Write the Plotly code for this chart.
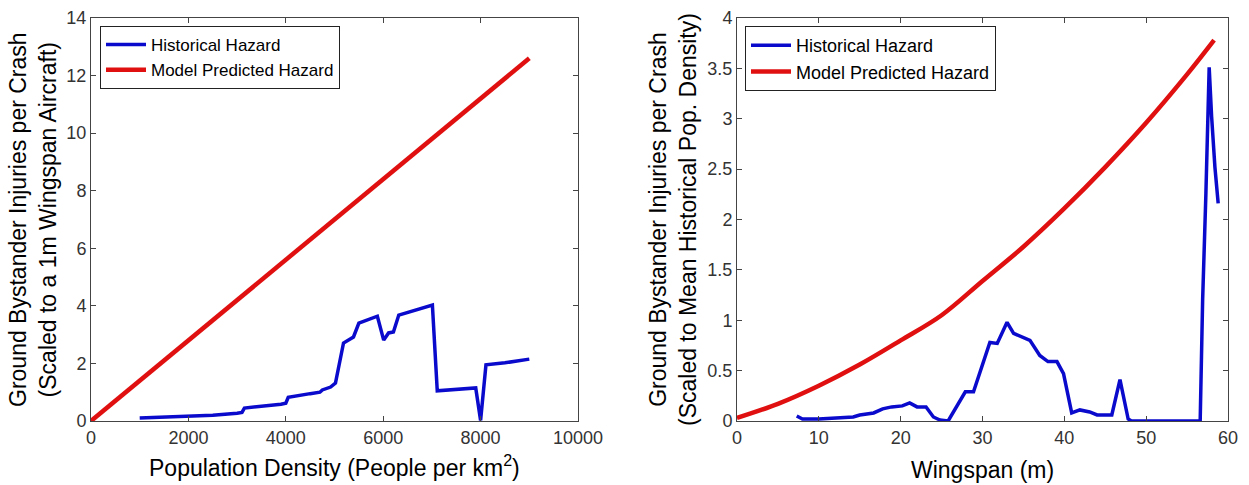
import plotly.graph_objects as go

# ---- Left panel data (Population density) ----
pop_hist_x = [1000, 1500, 2000, 2500, 3000, 3100, 3150, 3500, 3900, 4000, 4050, 4500, 4700,
              4750, 4920, 5020, 5185, 5390, 5500, 5880, 6010, 6110, 6210, 6320, 7010, 7110,
              7500, 7900, 8000, 8110, 8500, 9000]
pop_hist_y = [0.10, 0.13, 0.15, 0.20, 0.27, 0.30, 0.45, 0.50, 0.58, 0.62, 0.82, 0.95, 1.00,
              1.08, 1.18, 1.32, 2.71, 2.92, 3.40, 3.64, 2.81, 3.06, 3.09, 3.68, 4.03, 1.05,
              1.10, 1.15, 0.02, 1.95, 2.02, 2.15]
pop_model_x = [0, 9000]
pop_model_y = [0, 12.6]

# ---- Right panel data (Wingspan) ----
wing_hist_x = [7.3, 8.0, 10, 12, 14.2, 15.0, 16.7, 17.8, 18.9, 20.2, 21.1, 22.0, 23.1, 24.0,
               24.8, 25.8, 27.9, 28.9, 30.9, 31.8, 33.0, 33.8, 35.8, 37.0, 38.0, 39.1, 39.9,
               40.9, 41.9, 43.1, 44.0, 45.8, 46.8, 47.8, 48.2, 56.6, 56.9, 57.3, 57.7, 58.0,
               58.4, 58.8]
wing_hist_y = [0.05, 0.02, 0.02, 0.03, 0.04, 0.06, 0.08, 0.12, 0.14, 0.15, 0.18, 0.14, 0.14,
               0.04, 0.01, 0.0, 0.29, 0.29, 0.78, 0.77, 0.98, 0.87, 0.80, 0.65, 0.59, 0.59,
               0.47, 0.08, 0.11, 0.09, 0.06, 0.06, 0.41, 0.02, 0.0, 0.0, 1.2, 2.26, 3.51, 3.02,
               2.52, 2.16]
wing_model_x = [0, 5, 10, 15, 20, 25, 30, 35, 40, 45, 50, 55, 58.3]
wing_model_y = [0.03, 0.17, 0.35, 0.56, 0.80, 1.05, 1.39, 1.73, 2.11, 2.52, 2.96, 3.44, 3.78]

names = ["Historical Hazard", "Model Predicted Hazard"]
BLUE = "#0a0acc"
RED = "#e01010"
FONT = "Liberation Sans, Arial, sans-serif"

W, H = 1249, 485
def px_x(p): return p / W
def px_y(p): return (H - p) / H

fig = go.Figure()
fig.add_trace(go.Scatter(x=pop_hist_x, y=pop_hist_y, mode="lines", name=names[0],
                         line=dict(color=BLUE, width=3.5), xaxis="x", yaxis="y", legend="legend"))
fig.add_trace(go.Scatter(x=pop_model_x, y=pop_model_y, mode="lines", name=names[1],
                         line=dict(color=RED, width=4.5), xaxis="x", yaxis="y", legend="legend"))
fig.add_trace(go.Scatter(x=wing_hist_x, y=wing_hist_y, mode="lines", name=names[0],
                         line=dict(color=BLUE, width=3.5), xaxis="x2", yaxis="y2", legend="legend2"))
fig.add_trace(go.Scatter(x=wing_model_x, y=wing_model_y, mode="lines", name=names[1],
                         line=dict(color=RED, width=4.5, shape="spline"), xaxis="x2", yaxis="y2",
                         legend="legend2"))

axis_common = dict(showline=True, linecolor="#444", linewidth=1, mirror="ticks", ticks="inside",
                   ticklen=5, tickcolor="#444", showgrid=False, zeroline=False, automargin=False,
                   tickfont=dict(family=FONT, size=18, color="#333"))
ydom = [px_y(421), px_y(18)]
fig.update_layout(
    width=W, height=H, margin=dict(l=0, r=0, t=0, b=0, autoexpand=False),
    paper_bgcolor="white", plot_bgcolor="white",
    font=dict(family=FONT, color="black"),
    xaxis=dict(domain=[px_x(91), px_x(578)], range=[0, 10000], dtick=2000, tickformat="d",
               anchor="y", **axis_common),
    yaxis=dict(domain=ydom, range=[0, 14], dtick=2, anchor="x", **axis_common),
    xaxis2=dict(domain=[px_x(737), px_x(1228)], range=[0, 60], dtick=10, anchor="y2", **axis_common),
    yaxis2=dict(domain=ydom, range=[0, 4], dtick=0.5, anchor="x2", **axis_common),
    legend=dict(x=px_x(100), y=px_y(26), xanchor="left", yanchor="top", bgcolor="white",
                bordercolor="#222", borderwidth=1, font=dict(family=FONT, size=17, color="black"),
                itemwidth=40, tracegroupgap=0),
    legend2=dict(x=px_x(745), y=px_y(26), xanchor="left", yanchor="top", bgcolor="white",
                 bordercolor="#222", borderwidth=1, font=dict(family=FONT, size=18, color="black"),
                 itemwidth=40, tracegroupgap=0),
    showlegend=True,
)

ann_font = dict(family=FONT, size=23, color="black")
fig.add_annotation(text="Ground Bystander Injuries per Crash<br>(Scaled to a 1m Wingspan Aircraft)",
                   x=px_x(33.5), y=px_y(219.5), xref="paper", yref="paper", textangle=-90,
                   showarrow=False, font=ann_font, xanchor="center", yanchor="middle")
fig.add_annotation(text="Ground Bystander Injuries per Crash<br>(Scaled to Mean Historical Pop. Density)",
                   x=px_x(673.5), y=px_y(219.5), xref="paper", yref="paper", textangle=-90,
                   showarrow=False, font=ann_font, xanchor="center", yanchor="middle")
fig.add_annotation(text="Population Density (People per km<sup>2</sup>)",
                   x=px_x(334.5), y=px_y(466), xref="paper", yref="paper",
                   showarrow=False, font=ann_font, xanchor="center", yanchor="middle")
fig.add_annotation(text="Wingspan (m)",
                   x=px_x(982.5), y=px_y(470), xref="paper", yref="paper",
                   showarrow=False, font=ann_font, xanchor="center", yanchor="middle")

fig.write_html("out.html", config={"displayModeBar": False},
               post_script="document.body.style.margin='0';document.body.style.overflow='hidden';")
